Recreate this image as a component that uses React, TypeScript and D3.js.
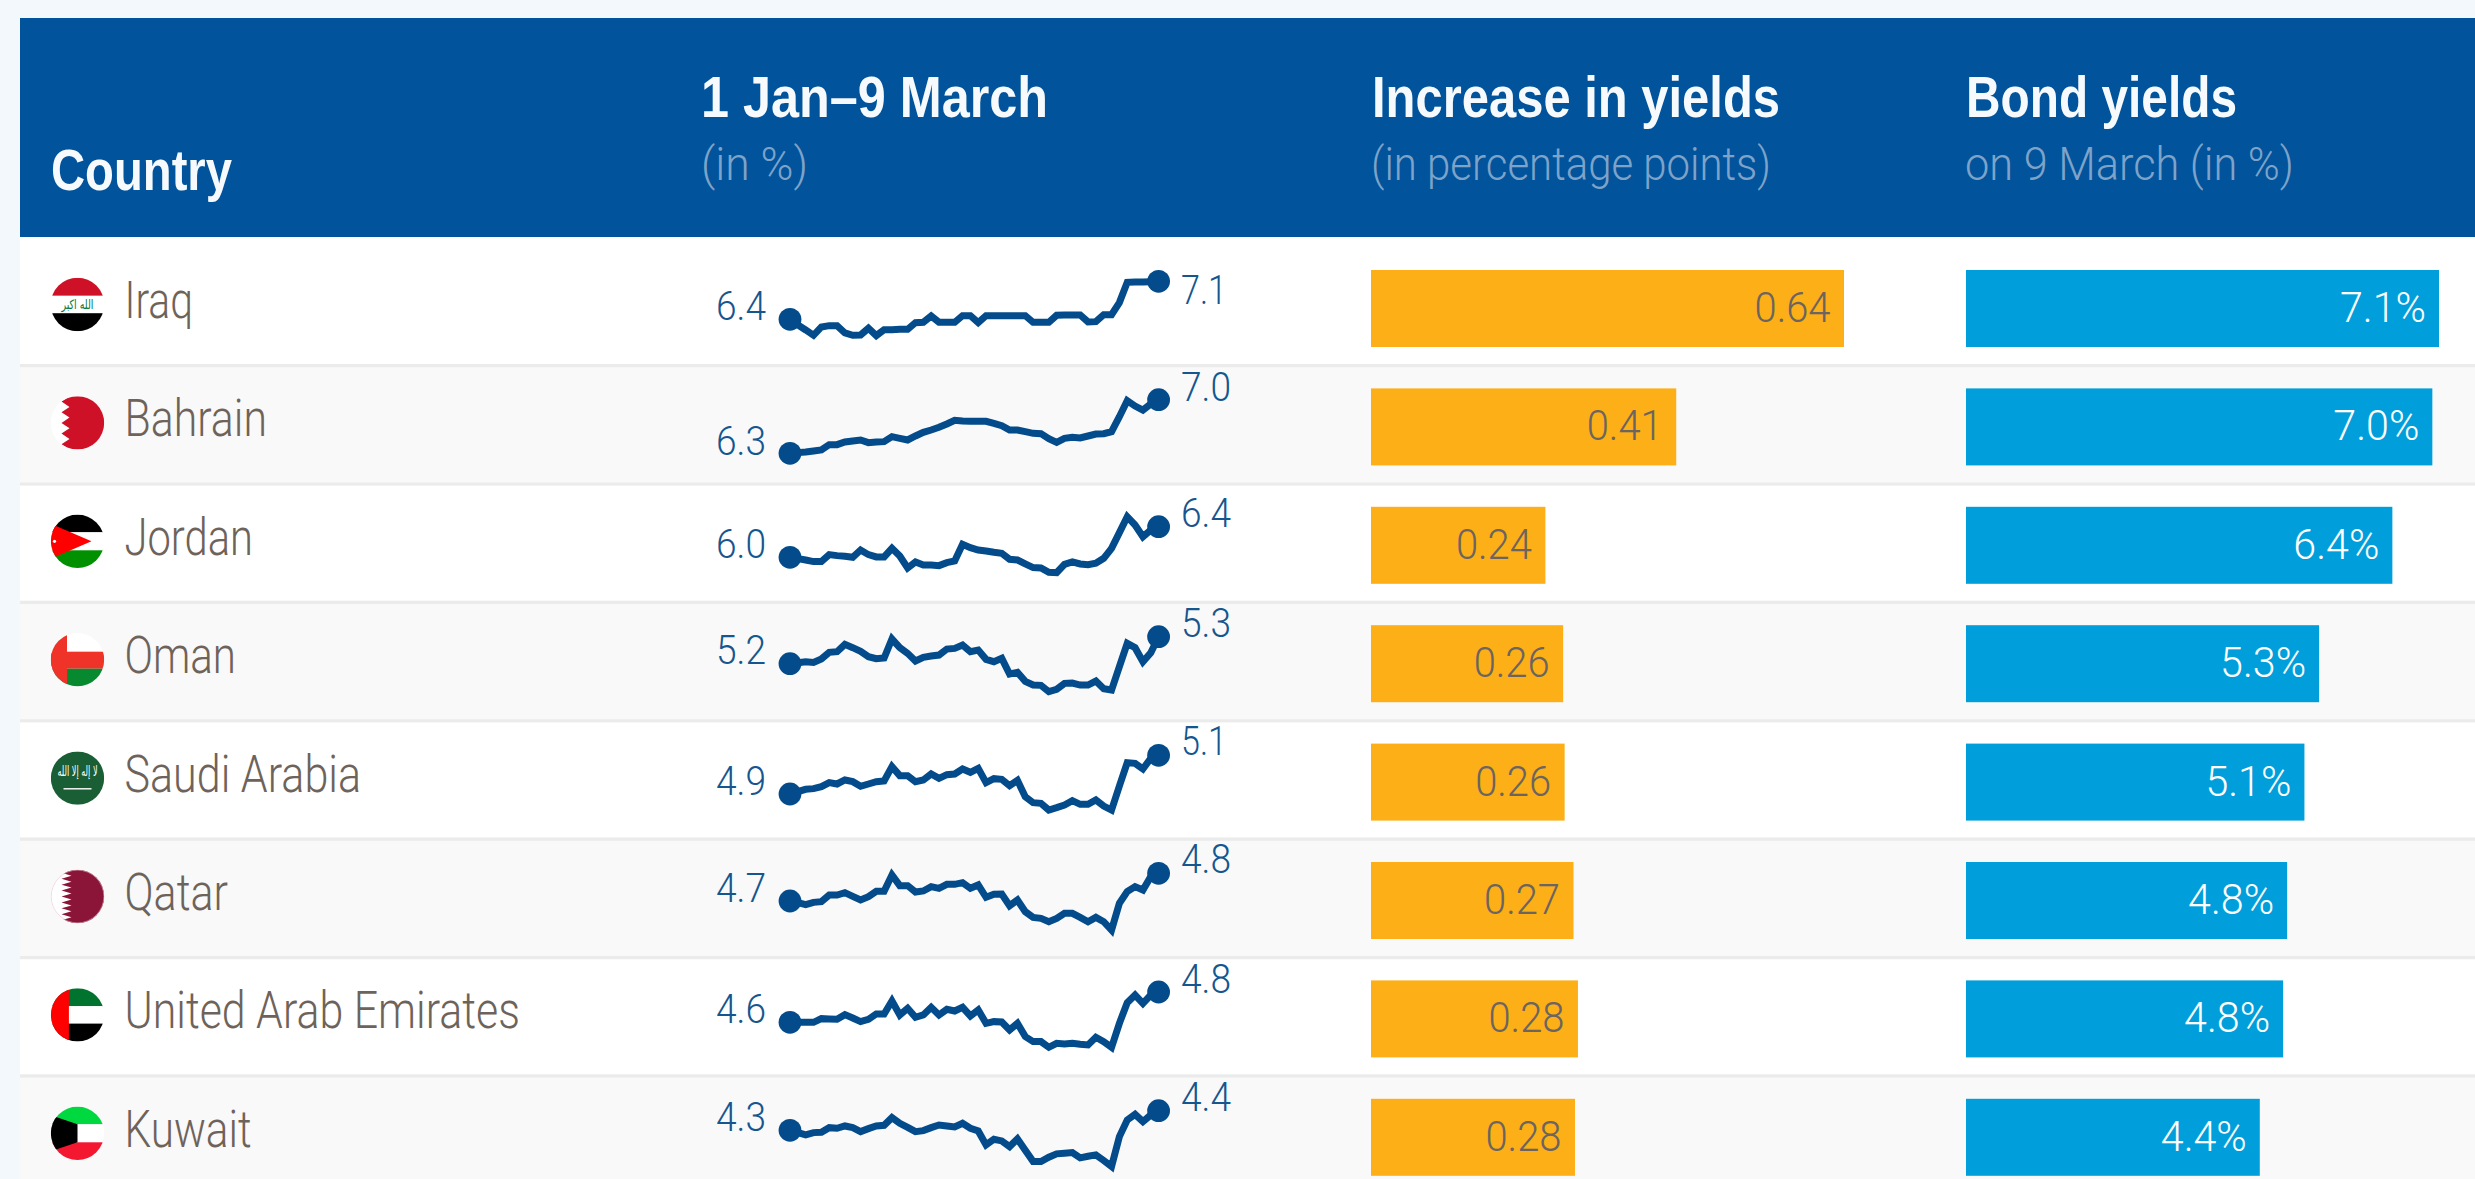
import React from "react";
import * as d3 from "d3";

const countries = ["Iraq", "Bahrain", "Jordan", "Oman", "Saudi Arabia", "Qatar", "United Arab Emirates", "Kuwait"];
const startLabels = ["6.4", "6.3", "6.0", "5.2", "4.9", "4.7", "4.6", "4.3"];
const endLabels = ["7.1", "7.0", "6.4", "5.3", "5.1", "4.8", "4.8", "4.4"];
const increases = [0.64, 0.413, 0.236, 0.26, 0.262, 0.274, 0.28, 0.276];
const bondYields = [7.1, 7.0, 6.4, 5.3, 5.08, 4.82, 4.76, 4.41];

const iraq = [6.400,6.298,6.208,6.112,6.262,6.286,6.286,6.154,6.112,6.118,6.238,6.106,6.214,6.214,6.220,6.220,6.340,6.346,6.460,6.346,6.346,6.346,6.466,6.466,6.340,6.466,6.466,6.466,6.466,6.466,6.466,6.346,6.346,6.346,6.472,6.478,6.478,6.478,6.352,6.358,6.484,6.484,6.700,7.066,7.072,7.072,7.078,7.084];
const bahrain = [6.320,6.328,6.336,6.348,6.360,6.424,6.424,6.456,6.468,6.480,6.448,6.456,6.460,6.520,6.500,6.480,6.528,6.572,6.600,6.632,6.672,6.716,6.708,6.704,6.704,6.704,6.680,6.652,6.600,6.600,6.580,6.560,6.556,6.496,6.452,6.500,6.512,6.504,6.528,6.552,6.556,6.580,6.760,6.952,6.888,6.840,6.912,6.964];
const jordan = [5.990,5.974,5.958,5.938,5.938,6.022,6.010,6.002,5.990,6.078,6.022,5.994,5.994,6.098,6.006,5.862,5.934,5.898,5.898,5.890,5.926,5.946,6.146,6.106,6.078,6.066,6.050,6.038,5.966,5.958,5.910,5.866,5.862,5.810,5.806,5.906,5.934,5.910,5.902,5.918,5.978,6.098,6.286,6.478,6.378,6.238,6.318,6.358];
const oman = [5.180,5.186,5.192,5.188,5.208,5.248,5.252,5.296,5.276,5.254,5.222,5.210,5.214,5.328,5.276,5.242,5.196,5.218,5.226,5.232,5.268,5.272,5.292,5.252,5.262,5.206,5.192,5.212,5.118,5.128,5.074,5.052,5.050,5.012,5.026,5.062,5.064,5.052,5.052,5.076,5.030,5.022,5.162,5.302,5.276,5.192,5.246,5.342];
const saudi = [4.880,4.894,4.908,4.912,4.924,4.948,4.940,4.964,4.954,4.926,4.940,4.954,4.958,5.044,4.990,4.990,4.954,4.964,5.000,4.974,4.996,5.000,5.030,5.010,5.034,4.948,4.972,4.968,4.930,4.962,4.864,4.828,4.824,4.784,4.798,4.814,4.840,4.818,4.818,4.844,4.808,4.784,4.928,5.068,5.064,5.030,5.094,5.112];
const qatar = [4.660,4.650,4.638,4.652,4.656,4.696,4.696,4.710,4.688,4.666,4.686,4.718,4.718,4.816,4.752,4.752,4.714,4.720,4.746,4.736,4.760,4.760,4.770,4.736,4.756,4.682,4.700,4.702,4.632,4.666,4.596,4.562,4.556,4.536,4.556,4.586,4.586,4.562,4.536,4.562,4.536,4.486,4.646,4.716,4.746,4.726,4.806,4.826];
const uae = [4.620,4.620,4.620,4.620,4.642,4.640,4.638,4.666,4.646,4.624,4.638,4.670,4.670,4.748,4.664,4.704,4.650,4.664,4.710,4.664,4.698,4.688,4.710,4.658,4.694,4.614,4.624,4.622,4.574,4.614,4.534,4.504,4.504,4.470,4.494,4.490,4.494,4.488,4.484,4.530,4.504,4.470,4.614,4.738,4.784,4.734,4.784,4.802];
const kuwait = [4.300,4.286,4.272,4.286,4.288,4.316,4.312,4.326,4.316,4.292,4.310,4.326,4.330,4.376,4.342,4.318,4.292,4.298,4.316,4.332,4.326,4.320,4.342,4.312,4.296,4.212,4.246,4.236,4.202,4.248,4.180,4.112,4.112,4.138,4.158,4.162,4.166,4.134,4.144,4.152,4.118,4.082,4.262,4.362,4.396,4.352,4.392,4.418];
const series = [iraq, bahrain, jordan, oman, saudi, qatar, uae, kuwait];

// layout only
const W = 2475, H = 1179;
const PITCH = 118.4;
const HEAD_TOP = 18, HEAD_BOTTOM = 237, LEFT = 20, SEP_Y = 364;
const sparkStartY = [319.3, 453.3, 557.3, 663.7, 794, 901, 1022.3, 1130.3];
const sparkEndY = [281.3, 399.7, 526.7, 636.7, 755.3, 873.3, 992, 1110.7];
const endLabelBase = [304, 400.7, 526.7, 637.3, 755.3, 873.3, 992.7, 1111];
const startLabelBase = [320, 455, 557.7, 663.7, 795, 901.7, 1023.3, 1131];
const nameRight = [193, 267, 253, 236, 361, 228, 520, 251.5];

const BODY = "Roboto, 'Liberation Sans', sans-serif";
const HEADF = "'Liberation Sans', Arial, sans-serif";
const TEXT = "#6e635a", LINE = "#034b8a", LABEL = "#15568f", HEAD = "#01539b", SUB = "#7ea3c9";

function Flag({ i, cx, cy }: { i: number; cx: number; cy: number }) {
  const R = 26.7;
  const id = `flag${i}`;
  const band = (y0: number, y1: number, c: string, x0 = -R, x1 = R) => (
    <rect x={x0} y={y0} width={x1 - x0} height={y1 - y0} fill={c} />
  );
  const serr = (edgeA: number, edgeB: number, n: number, c: string) => {
    const pts: [number, number][] = [[edgeB, -R], [R, -R], [R, R], [edgeB, R]];
    const h = (2 * R) / n;
    for (let k = n - 1; k >= 0; k--) {
      const y = -R + k * h;
      pts.push([edgeA, y + h / 2]);
      pts.push([edgeB, y]);
    }
    return <polygon points={pts.map((p) => p.join(",")).join(" ")} fill={c} />;
  };
  let body: React.ReactNode = null;
  if (i === 0)
    body = (
      <>
        {band(-R, -8.7, "#ce1126")}
        {band(-8.7, 8.7, "#ffffff")}
        {band(8.7, R, "#000000")}
        <text x={0} y={4} textAnchor="middle" fontSize={13} fill="#007a3d" fontFamily="'DejaVu Sans'" textLength={32} lengthAdjust="spacingAndGlyphs">الله اكبر</text>
      </>
    );
  if (i === 1)
    body = (
      <>
        {band(-R, R, "#ffffff")}
        {serr(-16, -8, 5, "#ce1126")}
      </>
    );
  if (i === 2)
    body = (
      <>
        {band(-R, -9, "#000000")}
        {band(-9, 9, "#ffffff")}
        {band(9, R, "#009000")}
        <polygon points={`${-R},${-17.5} 14,0 ${-R},17.5`} fill="#ff0000" />
        <circle cx={-23} cy={0} r={1.6} fill="#ffffff" />
      </>
    );
  if (i === 3)
    body = (
      <>
        {band(-R, -8, "#ffffff")}
        {band(-8, 9, "#ef3328")}
        {band(9, R, "#078930")}
        {band(-R, R, "#ef3328", -R, -10.5)}
      </>
    );
  if (i === 4)
    body = (
      <>
        {band(-R, R, "#195e35")}
        <text x={0} y={-2} textAnchor="middle" fontSize={14} fill="#ffffff" fontFamily="'DejaVu Sans'" textLength={40} lengthAdjust="spacingAndGlyphs">لا إله إلا الله</text>
        <rect x={-14} y={10} width={28} height={1.4} fill="#ffffff" />
      </>
    );
  if (i === 5)
    body = (
      <>
        {band(-R, R, "#ffffff")}
        {serr(-16, -6, 9, "#8a1538")}
        <circle r={R - 0.3} fill="none" stroke="#e3b8c6" strokeWidth={0.6} />
      </>
    );
  if (i === 6)
    body = (
      <>
        {band(-R, -8.7, "#00732f")}
        {band(-8.7, 8.7, "#ffffff")}
        {band(8.7, R, "#000000")}
        {band(-R, R, "#ff0000", -R, -8.6)}
      </>
    );
  if (i === 7)
    body = (
      <>
        {band(-R, -9, "#00d83f")}
        {band(-9, 9, "#ffffff")}
        {band(9, R, "#f31830")}
        <polygon points={`${-R},${-18} 0,-9 0,9 ${-R},18`} fill="#000000" />
      </>
    );
  return (
    <g transform={`translate(${cx},${cy})`}>
      <clipPath id={id}><circle r={R} /></clipPath>
      <g clipPath={`url(#${id})`}>{body}</g>
    </g>
  );
}

export default function App() {
  const lastDay = iraq.length - 1;
  const xDay = d3.scaleLinear().domain([0, lastDay]).range([790, 1158.6]);
  const xInc = d3.scaleLinear().domain([0, 0.64]).range([1371, 1844]);
  const xBond = d3.scaleLinear().domain([0, 7.1]).range([1966, 2439]);
  const sepY = (i: number) => SEP_Y + i * PITCH;
  const rowTop = (i: number) => (i === 0 ? HEAD_BOTTOM : sepY(i - 1));
  const labelW = (s: string) => (s.endsWith("1") ? 46 : 50);

  return (
    <svg width={W} height={H} viewBox={`0 0 ${W} ${H}`} style={{ position: "absolute", left: 0, top: 0, display: "block" }}>
      <rect width={W} height={H} fill="#f3f8fc" />

      {countries.map((name, i) => (
        <rect key={name} x={LEFT} y={rowTop(i)} width={W - LEFT} height={sepY(i) - rowTop(i)} fill={i % 2 === 0 ? "#ffffff" : "#f9f9f9"} />
      ))}
      {countries.slice(0, 7).map((name, i) => (
        <rect key={name} x={LEFT} y={sepY(i)} width={W - LEFT} height={3.2} fill="#ebebeb" />
      ))}

      <rect x={LEFT} y={HEAD_TOP} width={W - LEFT} height={HEAD_BOTTOM - HEAD_TOP} fill={HEAD} />
      <g fontFamily={HEADF} fontWeight={700} fontSize={58} fill="#f6fafd">
        <text x={51} y={190} textLength={181} lengthAdjust="spacingAndGlyphs">Country</text>
        <text x={701} y={117} textLength={347} lengthAdjust="spacingAndGlyphs">1 Jan–9 March</text>
        <text x={1372} y={117} textLength={408} lengthAdjust="spacingAndGlyphs">Increase in yields</text>
        <text x={1966} y={117} textLength={271} lengthAdjust="spacingAndGlyphs">Bond yields</text>
      </g>
      <g fontFamily={BODY} fontWeight={300} fontSize={46} fill={SUB}>
        <text x={701} y={180} textLength={107} lengthAdjust="spacingAndGlyphs">(in %)</text>
        <text x={1371} y={180} textLength={400} lengthAdjust="spacingAndGlyphs">(in percentage points)</text>
        <text x={1965} y={180} textLength={329} lengthAdjust="spacingAndGlyphs">on 9 March (in %)</text>
      </g>

      {countries.map((name, i) => {
        const vals = series[i];
        const y = d3.scaleLinear().domain([vals[0], vals[lastDay]]).range([sparkStartY[i], sparkEndY[i]]);
        const path = d3.line<number>().x((_, k) => xDay(k)).y((v) => y(v))(vals) || "";
        const barY = 270 + i * PITCH;
        const incEnd = xInc(increases[i]);
        const bondEnd = xBond(bondYields[i]);
        const incText = increases[i].toFixed(2);
        const bondText = bondYields[i].toFixed(1) + "%";
        return (
          <g key={name}>
            <Flag i={i} cx={77.5} cy={304.5 + i * PITCH} />
            <text x={124.5} y={318 + i * PITCH} fontFamily={BODY} fontWeight={300} fontSize={52} fill={TEXT} textLength={nameRight[i] - 124.5} lengthAdjust="spacingAndGlyphs">{name}</text>

            <text x={766 - labelW(startLabels[i])} y={startLabelBase[i]} fontFamily={BODY} fontWeight={300} fontSize={41} fill={LABEL} textLength={labelW(startLabels[i])} lengthAdjust="spacingAndGlyphs">{startLabels[i]}</text>
            <path d={path} fill="none" stroke={LINE} strokeWidth={7} strokeLinejoin="miter" />
            <circle cx={xDay(0)} cy={y(vals[0])} r={11.4} fill={LINE} />
            <circle cx={xDay(lastDay)} cy={y(vals[lastDay])} r={11.4} fill={LINE} />
            <text x={1181} y={endLabelBase[i]} fontFamily={BODY} fontWeight={300} fontSize={41} fill={LABEL} textLength={labelW(endLabels[i])} lengthAdjust="spacingAndGlyphs">{endLabels[i]}</text>

            <rect x={xInc(0)} y={barY} width={incEnd - xInc(0)} height={77} fill="#fcaf17" />
            <text x={incEnd - 13.5 - 76} y={barY + 52} fontFamily={BODY} fontWeight={300} fontSize={43} fill="#6b6460" textLength={76} lengthAdjust="spacingAndGlyphs">{incText}</text>
            <rect x={xBond(0)} y={barY} width={bondEnd - xBond(0)} height={77} fill="#009fdb" />
            <text x={bondEnd - 13 - 86} y={barY + 52} fontFamily={BODY} fontWeight={300} fontSize={43} fill="#ffffff" textLength={86} lengthAdjust="spacingAndGlyphs">{bondText}</text>
          </g>
        );
      })}
    </svg>
  );
}
